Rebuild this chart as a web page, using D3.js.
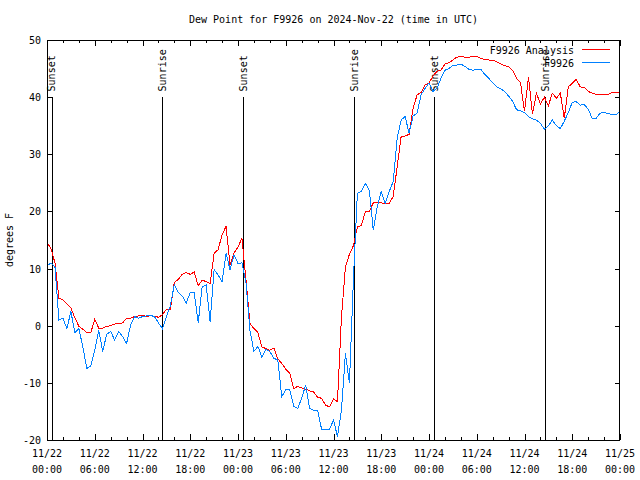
<!DOCTYPE html>
<html><head><meta charset="utf-8">
<script src="https://cdn.jsdelivr.net/npm/d3@7"></script>
<style>
body{margin:0;background:#fff}
svg{display:block}
text{font-family:"DejaVu Sans Mono","Liberation Mono",monospace;font-size:10px;fill:#000}
</style>
</head><body>
<svg id="chart" width="640" height="480"></svg>
<script>
// ---------- data ----------
const chartTitle = "Dew Point for F9926 on 2024-Nov-22 (time in UTC)";
const yAxisLabel = "degrees F";
const seriesNames = ["F9926 Analysis", "F9926"];
const sampleStepHours = 0.5; // samples every 30 min from 2024-11-22 00:00 UTC

const analysisValues = [
  14.6, 13.5, 11.0, 4.8, 4.5, 3.8, 3.1, 1.4, -0.1, -0.6, -1.2, -1.2,
  1.1, -0.4, -0.4, -0.1, 0.0, 0.3, 0.4, 0.5, 1.3, 1.3, 1.6, 1.7,
  1.8, 1.6, 1.8, 1.6, 1.5, 1.9, 2.9, 2.9, 7.6, 8.1, 9.0, 9.3,
  9.0, 9.4, 7.0, 8.0, 7.7, 7.4, 12.7, 13.3, 15.9, 17.4, 10.6, 12.7,
  13.8, 15.3, 8.0, 0.4, -0.5, -1.2, -3.7, -4.0, -4.3, -3.9, -5.8, -6.6,
  -7.6, -8.3, -11.0, -10.6, -10.9, -11.1, -11.4, -11.6, -12.5, -12.7, -13.9, -14.2,
  -12.8, -13.3, 1.5, 10.3, 12.5, 14.0, 17.3, 17.5, 20.0, 20.0, 21.5, 21.5,
  21.5, 21.4, 21.4, 22.6, 27.8, 33.1, 33.2, 33.5, 38.0, 40.4, 40.8, 42.1,
  42.5, 43.7, 44.5, 44.7, 45.8, 46.0, 46.5, 47.0, 47.1, 47.0, 47.0, 47.1,
  47.1, 46.8, 46.6, 46.5, 46.5, 46.2, 45.8, 45.5, 45.3, 44.7, 43.3, 42.5,
  37.5, 43.5, 37.0, 40.7, 38.8, 40.0, 38.5, 40.7, 39.8, 40.7, 36.3, 41.8,
  42.4, 43.1, 41.8, 41.7, 41.0, 40.7, 40.5, 40.5, 40.5, 40.5, 40.8, 40.8,
  40.8
];
const stationValues = [
  10.5, 11.0, 10.3, 1.0, 1.3, -0.5, 2.5, -1.2, -0.5, -3.7, -7.5, -7.0,
  -4.3, -0.8, -4.5, -1.5, -1.0, -2.5, -1.0, -1.9, -3.1, 0.1, 1.6, 1.3,
  1.6, 1.7, 1.8, 1.6, 0.5, -0.5, 1.6, 3.5, 7.2, 5.8, 5.2, 4.0,
  5.8, 5.8, 0.5, 6.8, 7.1, 0.7, 9.8, 8.9, 7.7, 12.7, 9.8, 12.4,
  10.9, 11.0, 7.5, -0.8, -4.5, -3.6, -5.5, -4.1, -4.5, -5.7, -6.0, -12.4,
  -11.2, -11.2, -14.1, -14.5, -12.7, -10.4, -14.5, -14.8, -14.8, -18.1, -18.1, -18.1,
  -16.5, -19.4, -14.8, -4.8, -10.1, 8.0, 23.2, 23.5, 24.9, 23.7, 16.7, 20.8,
  23.5, 21.4, 23.5, 25.2, 32.8, 36.0, 36.6, 33.7, 36.7, 37.2, 40.4, 41.5,
  42.5, 41.0, 41.5, 43.3, 44.7, 45.0, 45.6, 45.6, 45.8, 45.4, 44.9, 44.7,
  44.9, 44.9, 44.0, 43.3, 42.5, 41.8, 41.5, 41.0, 40.2, 39.3, 37.8, 37.6,
  37.3, 36.6, 36.2, 36.0, 35.4, 34.4, 35.0, 36.0, 35.0, 34.5, 35.8, 37.3,
  39.1, 39.2, 38.6, 38.7, 37.9, 36.3, 36.3, 37.2, 37.4, 37.1, 37.0, 36.9,
  37.5
];

const xTickHours = [0, 6, 12, 18, 24, 30, 36, 42, 48, 54, 60, 66, 72];
const xTickDates = ["11/22","11/22","11/22","11/22","11/23","11/23","11/23","11/23","11/24","11/24","11/24","11/24","11/25"];
const xTickTimes = ["00:00","06:00","12:00","18:00","00:00","06:00","12:00","18:00","00:00","06:00","12:00","18:00","00:00"];
const xMinorTickHours = [2,4,8,10,14,16,20,22,26,28,32,34,38,40,44,46,50,52,56,58,62,64,68,70];
const yTicks = [-20, -10, 0, 10, 20, 30, 40, 50];

const eventNames = ["Sunset", "Sunrise", "Sunset", "Sunrise", "Sunset", "Sunrise"];
const eventHours = [0.59, 14.49, 24.62, 38.62, 48.67, 62.58];
const eventLineTop = 40;   // degrees F
const eventLabelAt = 41;   // degrees F

const seriesColors = ["#ff0000", "#0080ff"];

// ---------- chart ----------
const svg = d3.select("#chart");
const L = 47, R = 620, T = 40, B = 440;
const x = d3.scaleLinear().domain([0, 72]).range([L, R]);
const y = d3.scaleLinear().domain([-20, 50]).range([B, T]);

const toPts = vals => vals.map((v, i) => ({h: i * sampleStepHours, v}));
const series = [toPts(analysisValues), toPts(stationValues)];

// title
svg.append("text").attr("x", (L + R) / 2).attr("y", 23)
  .attr("text-anchor", "middle").text(chartTitle);

// y label
svg.append("text").attr("transform", `translate(13,${(T + B) / 2}) rotate(-90)`)
  .attr("text-anchor", "middle").text(yAxisLabel);

// ticks via d3 axes (inward)
function tickAxis(gen, tx, ty, vals, size) {
  const g = svg.append("g").attr("transform", `translate(${tx},${ty})`)
    .call(gen.tickValues(vals).tickSizeInner(size).tickSizeOuter(0).tickFormat(""));
  g.select(".domain").remove();
  g.selectAll("line").attr("stroke", "#000").attr("shape-rendering", "crispEdges");
  return g;
}
tickAxis(d3.axisBottom(x), 0, B, xTickHours, -6);
tickAxis(d3.axisBottom(x), 0, B, xMinorTickHours, -3);
tickAxis(d3.axisTop(x), 0, T, xTickHours, -6);
tickAxis(d3.axisTop(x), 0, T, xMinorTickHours, -3);
tickAxis(d3.axisLeft(y), L, 0, yTicks, -5);
tickAxis(d3.axisRight(y), R, 0, yTicks, -5);

// tick labels
svg.append("g").selectAll("text").data(yTicks).join("text")
  .attr("x", 41).attr("y", d => y(d) + 4).attr("text-anchor", "end").text(d => d);
const xl = svg.append("g");
xl.selectAll("text.d").data(xTickHours).join("text").attr("class", "d")
  .attr("x", d => x(d)).attr("y", 457).attr("text-anchor", "middle")
  .text((d, i) => xTickDates[i]);
xl.selectAll("text.t").data(xTickHours).join("text").attr("class", "t")
  .attr("x", d => x(d)).attr("y", 473).attr("text-anchor", "middle")
  .text((d, i) => xTickTimes[i]);

// event lines
const ev = svg.append("g");
ev.selectAll("line").data(eventHours).join("line")
  .attr("x1", d => Math.round(x(d)) + 0.5).attr("x2", d => Math.round(x(d)) + 0.5)
  .attr("y1", y(-20)).attr("y2", y(eventLineTop))
  .attr("stroke", "#000").attr("stroke-width", 1).attr("shape-rendering", "crispEdges");

// data lines
const line = d3.line().x(d => x(d.h)).y(d => y(d.v));
svg.append("g").selectAll("path").data(series).join("path")
  .attr("d", line).attr("fill", "none")
  .attr("stroke", (d, i) => seriesColors[i]).attr("stroke-width", 1)
  .attr("shape-rendering", "crispEdges");

// event labels (drawn over data, like the reference)
ev.selectAll("text").data(eventHours).join("text")
  .attr("transform", d => `translate(${x(d) + 3.6},${y(eventLabelAt)}) rotate(-90)`)
  .attr("text-anchor", "start").text((d, i) => eventNames[i]);

// border
svg.append("rect").attr("x", L + 0.5).attr("y", T + 0.5)
  .attr("width", R - L - 1).attr("height", B - T)
  .attr("fill", "none").attr("stroke", "#000").attr("shape-rendering", "crispEdges");

// legend
const lg = svg.append("g");
seriesNames.forEach((name, i) => {
  const ly = 50 + i * 13;
  lg.append("text").attr("x", 574).attr("y", ly + 4).attr("text-anchor", "end").text(name);
  lg.append("line").attr("x1", 582).attr("x2", 610).attr("y1", ly - 0.5).attr("y2", ly - 0.5)
    .attr("stroke", seriesColors[i]).attr("shape-rendering", "crispEdges");
});
</script>
</body></html>
